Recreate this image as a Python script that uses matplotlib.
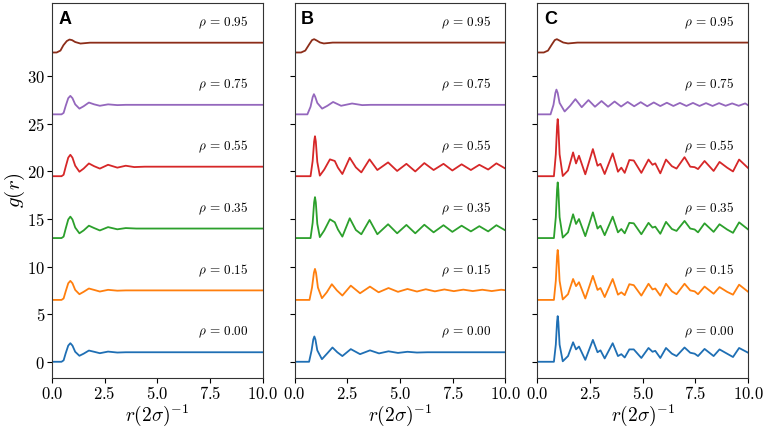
import matplotlib
matplotlib.use("Agg")
import matplotlib.pyplot as plt

plt.rcParams['mathtext.fontset'] = 'cm'

RHOS = ['0.00', '0.15', '0.35', '0.55', '0.75', '0.95']
OFFSETS = [0.0, 6.5, 13.0, 19.5, 26.0, 32.5]
COLORS = ['#1f6fb4', '#ff7f0e', '#2ca02c', '#d62728', '#9467bd', '#8c2d19']
PANELS = ['A', 'B', 'C']

XTICKS = [0.0, 2.5, 5.0, 7.5, 10.0]
XTICK_LABELS = [r'$0.0$', r'$2.5$', r'$5.0$', r'$7.5$', r'$10.0$']
YTICKS = [0, 5, 10, 15, 20, 25, 30]
YTICK_LABELS = [r'$0$', r'$5$', r'$10$', r'$15$', r'$20$', r'$25$', r'$30$']

# ---- panel A ----
A_R_SHORT = [0, 0.45, 0.55, 0.65, 0.77, 0.87, 0.97, 1.1, 1.3, 1.5, 1.75, 2.0, 2.27, 2.66,
             3.1, 3.5, 10]
A_G_000 = [0, 0, 0.15, 0.9, 1.7, 1.95, 1.7, 1.05, 0.63, 0.85, 1.18, 1.05, 0.9, 1.07,
           0.97, 1.0, 1.0]
A_G_015 = [0, 0, 0.15, 0.9, 1.75, 2.0, 1.75, 1.05, 0.6, 0.85, 1.2, 1.05, 0.88, 1.06,
           0.97, 1.0, 1.0]
A_G_075 = [0, 0, 0.15, 0.9, 1.7, 1.94, 1.7, 1.05, 0.6, 0.85, 1.24, 1.05, 0.9, 1.05,
           0.97, 1.0, 1.0]
A_R_035 = [0, 0.45, 0.55, 0.65, 0.77, 0.87, 0.97, 1.1, 1.3, 1.5, 1.75, 2.0, 2.27, 2.66,
           3.1, 3.5, 4.0, 10]
A_G_035 = [0, 0, 0.15, 1.0, 1.95, 2.25, 1.95, 1.1, 0.5, 0.8, 1.3, 1.05, 0.8, 1.15,
           0.92, 1.05, 1.0, 1.0]
A_R_055 = [0, 0.45, 0.55, 0.65, 0.77, 0.87, 0.97, 1.1, 1.3, 1.5, 1.75, 2.0, 2.27, 2.66,
           3.1, 3.5, 3.9, 4.4, 10]
A_G_055 = [0, 0, 0.15, 1.0, 1.95, 2.25, 1.95, 1.1, 0.47, 0.8, 1.34, 1.05, 0.8, 1.2,
           0.9, 1.1, 0.96, 1.0, 1.0]
A_R_095 = [0, 0.22, 0.4, 0.54, 0.7, 0.83, 0.95, 1.1, 1.35, 1.8, 10]
A_G_095 = [0, 0, 0.2, 0.76, 1.2, 1.36, 1.3, 1.1, 0.94, 1.03, 1.03]

# ---- panel B ----
B_R_000 = [0, 0.68, 0.8, 0.88, 0.93, 0.98, 1.07, 1.29, 1.55, 1.79, 2.02, 2.26, 2.66, 3.1,
           3.57, 4.0, 4.45, 4.9, 5.35, 5.8, 6.3, 10]
B_G_000 = [0, 0, 1.2, 2.35, 2.66, 2.35, 1.2, 0.27, 0.9, 1.5, 1.0, 0.6, 1.33, 0.8,
           1.2, 0.88, 1.1, 0.93, 1.05, 0.97, 1.0, 1.0]
B_R_015 = [0, 0.7, 0.82, 0.91, 0.96, 1.01, 1.1, 1.29, 1.52, 1.76, 2.0, 2.26, 2.66, 3.1,
           3.57, 3.98, 4.45, 4.9, 5.35, 5.8, 6.22, 6.65, 7.1, 7.55, 8.0, 8.45, 8.9,
           9.35, 9.8, 10]
B_G_015 = [0, 0, 1.3, 2.85, 3.26, 2.85, 1.3, 0.18, 0.8, 1.65, 1.0, 0.46, 1.5, 0.7,
           1.4, 0.8, 1.25, 0.85, 1.15, 0.88, 1.12, 0.9, 1.1, 0.92, 1.08, 0.93, 1.07,
           0.93, 1.07, 1.02]
B_R_DENSE = [0, 0.75, 0.85, 0.92, 0.96, 1.0, 1.07, 1.19, 1.4, 1.67, 1.9, 2.05, 2.26,
             2.61, 2.9, 3.16, 3.55, 3.92, 4.43, 4.86, 5.3, 5.72, 6.15, 6.59, 7.06,
             7.48, 7.92, 8.36, 8.76, 9.18, 9.57, 10]
B_G_035 = [0, 0, 1.6, 3.75, 4.3, 3.75, 1.5, 0.1, 0.8, 1.97, 1.66, 0.9, 0.15,
           2.08, 0.85, 0.4, 1.9, 0.4, 1.45, 0.5, 1.38, 0.5, 1.4, 0.6, 1.35,
           0.65, 1.3, 0.7, 1.25, 0.7, 1.35, 0.8]
B_G_055 = [0, 0, 1.6, 3.65, 4.2, 3.65, 1.5, 0.06, 0.7, 1.77, 1.6, 0.9, 0.23,
           1.94, 0.93, 0.4, 1.77, 0.65, 1.45, 0.55, 1.3, 0.5, 1.38, 0.65, 1.3,
           0.6, 1.25, 0.65, 1.2, 0.7, 1.35, 0.8]
B_R_075 = [0, 0.6, 0.75, 0.85, 0.91, 0.97, 1.07, 1.3, 1.55, 1.82, 2.2, 2.72, 3.2, 3.6, 10]
B_G_075 = [0, 0, 0.8, 1.8, 2.12, 1.85, 1.2, 0.6, 0.9, 1.3, 0.9, 1.14, 0.97, 1.0, 1.0]
B_R_095 = [0, 0.3, 0.5, 0.7, 0.82, 0.92, 1.05, 1.2, 1.38, 1.8, 10]
B_G_095 = [0, 0, 0.2, 0.9, 1.3, 1.4, 1.25, 1.05, 0.95, 1.04, 1.04]

# ---- panel C ----
C_R_DENSE = [0, 0.78, 0.87, 0.93, 0.96, 0.99, 1.05, 1.2, 1.45, 1.69, 1.83, 1.97, 2.27,
             2.63, 2.85, 2.99, 3.19, 3.57, 3.82, 3.98, 4.14, 4.36, 4.57, 4.93, 5.27,
             5.46, 5.59, 5.83, 6.1, 6.38, 6.6, 6.98, 7.25, 7.46, 7.62, 7.93, 8.36,
             8.64, 9.0, 9.28, 9.57, 10]
C_G_000 = [0, 0, 1.8, 4.2, 4.8, 4.2, 1.8, 0.05, 0.6, 2.05, 1.3, 1.6, 0.2,
           2.3, 1.0, 1.2, 0.35, 1.95, 0.6, 0.8, 0.45, 1.3, 1.3, 0.4, 1.45,
           1.05, 1.15, 0.4, 1.45, 0.85, 0.6, 1.5, 0.95, 0.85, 0.6, 1.35, 0.6,
           1.3, 0.85, 0.5, 1.45, 0.95]
C_G_015 = [0, 0, 2.0, 4.6, 5.25, 4.6, 2.0, 0.05, 0.6, 2.2, 1.45, 1.86, 0.15,
           2.53, 1.05, 1.25, 0.3, 2.2, 0.55, 0.8, 0.5, 1.65, 1.55, 0.45, 1.7,
           1.1, 1.2, 0.45, 1.7, 0.9, 0.6, 1.7, 1.0, 0.9, 0.6, 1.4, 0.65,
           1.35, 0.85, 0.55, 1.6, 0.85]
C_G_035 = [0, 0, 2.2, 5.1, 5.85, 5.1, 2.2, 0.05, 0.6, 2.5, 1.48, 2.0, 0.2,
           2.7, 1.0, 1.3, 0.3, 2.25, 0.6, 0.95, 0.5, 1.6, 1.55, 0.4, 1.6,
           1.1, 1.2, 0.45, 1.7, 0.95, 0.75, 1.8, 1.0, 0.9, 0.6, 1.55, 0.65,
           1.45, 0.9, 0.55, 1.65, 0.9]
C_G_055 = [0, 0, 2.3, 5.25, 6.0, 5.25, 2.3, 0.02, 0.6, 2.5, 1.34, 2.15, 0.2,
           2.85, 1.1, 1.3, 0.23, 2.4, 0.47, 0.9, 0.35, 1.7, 1.65, 0.35, 1.75,
           1.2, 1.35, 0.3, 1.75, 1.05, 0.8, 2.0, 1.0, 0.95, 0.75, 1.6, 0.55,
           1.5, 0.9, 0.5, 1.75, 0.85]
C_R_075 = [0, 0.62, 0.76, 0.85, 0.9, 0.96, 1.05, 1.29, 1.55, 1.8, 2.1, 2.42, 2.73, 3.04,
           3.35, 3.66, 3.97, 4.28, 4.59, 4.9, 5.21, 5.52, 5.83, 6.14, 6.45, 6.76,
           7.07, 7.38, 7.69, 8.0, 8.31, 8.62, 8.93, 9.24, 9.55, 9.86, 10]
C_G_075 = [0, 0, 1.0, 2.25, 2.6, 2.25, 1.2, 0.3, 0.9, 1.6, 0.75, 1.5, 0.8, 1.4,
           0.8, 1.35, 0.82, 1.3, 0.85, 1.28, 0.85, 1.25, 0.87, 1.22, 0.88, 1.2,
           0.88, 1.2, 0.88, 1.18, 0.88, 1.18, 0.9, 1.15, 0.9, 1.15, 0.95]
C_R_095 = [0, 0.3, 0.5, 0.7, 0.82, 0.92, 1.05, 1.22, 1.45, 1.9, 10]
C_G_095 = [0, 0, 0.2, 0.9, 1.3, 1.4, 1.25, 1.05, 0.95, 1.04, 1.04]

CURVES = {
    'A': [(A_R_SHORT, A_G_000), (A_R_SHORT, A_G_015), (A_R_035, A_G_035),
          (A_R_055, A_G_055), (A_R_SHORT, A_G_075), (A_R_095, A_G_095)],
    'B': [(B_R_000, B_G_000), (B_R_015, B_G_015), (B_R_DENSE, B_G_035),
          (B_R_DENSE, B_G_055), (B_R_075, B_G_075), (B_R_095, B_G_095)],
    'C': [(C_R_DENSE, C_G_000), (C_R_DENSE, C_G_015), (C_R_DENSE, C_G_035),
          (C_R_DENSE, C_G_055), (C_R_075, C_G_075), (C_R_095, C_G_095)],
}

fig, axes = plt.subplots(1, 3, figsize=(7.65, 4.29), dpi=100, sharey=True)
fig.subplots_adjust(left=0.068, right=0.978, bottom=0.119, top=0.993, wspace=0.152)

for ax, panel in zip(axes, PANELS):
    for (r, g), off, col, rho in zip(CURVES[panel], OFFSETS, COLORS, RHOS):
        ax.plot(r, [v + off for v in g], color=col, linewidth=1.3)
        ax.text(6.95, off + 3.1, r'$\rho\,=\,%s$' % rho, fontsize=9.5, va='center')
    ax.text(0.03, 0.978, panel, transform=ax.transAxes, fontsize=13,
            fontweight='bold', family='Liberation Sans', va='top', ha='left')
    ax.set_xlim(0, 10)
    ax.set_ylim(-1.7, 37.7)
    ax.set_xticks(XTICKS)
    ax.set_xticklabels(XTICK_LABELS, fontsize=12)
    ax.tick_params(axis='both', pad=1.5, length=3.5)
    ax.set_xlabel(r'$r(2\sigma)^{-1}$', fontsize=14, labelpad=0)
    for s in ax.spines.values():
        s.set_color('#333333')

axes[0].set_yticks(YTICKS)
axes[0].set_yticklabels(YTICK_LABELS, fontsize=12)
axes[0].set_ylabel(r'$g(r)$', fontsize=15, labelpad=0)

fig.savefig('out.png', dpi=100)
